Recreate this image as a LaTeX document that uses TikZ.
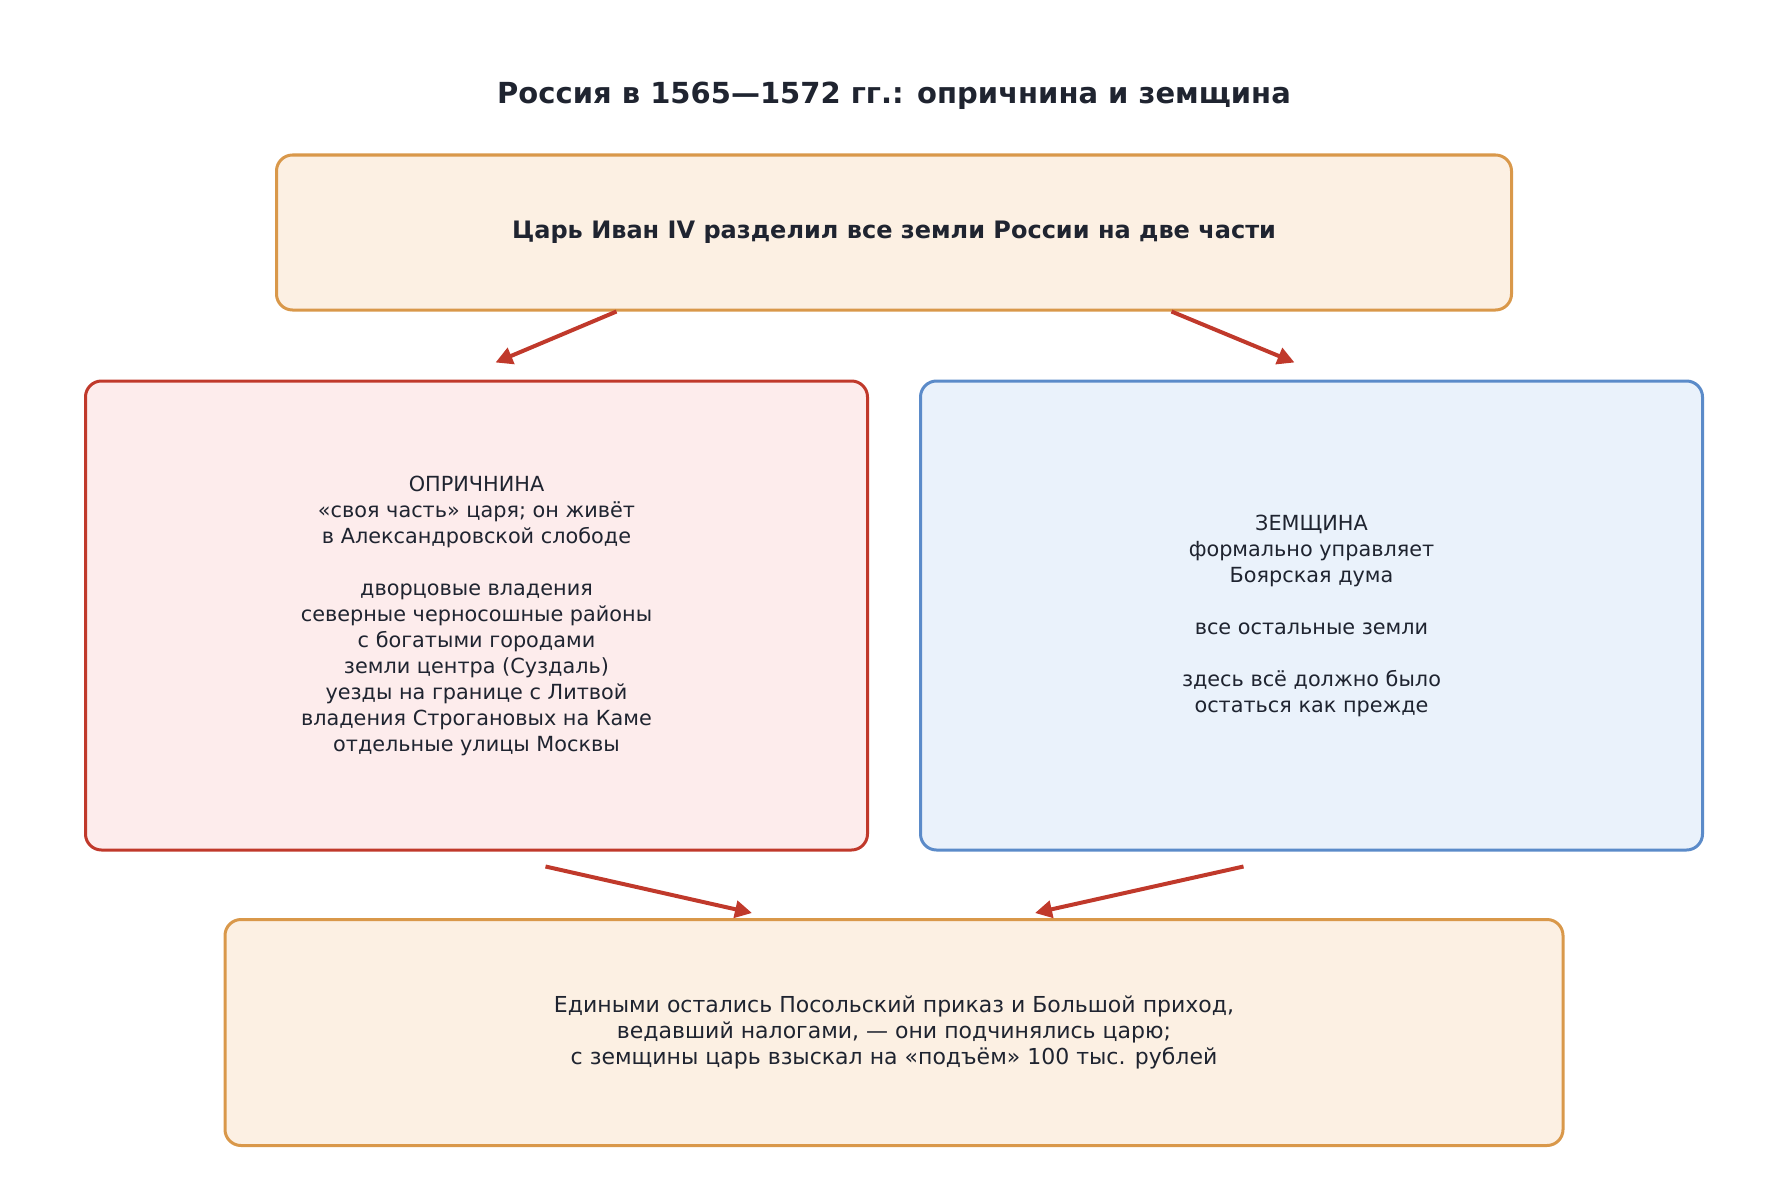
\documentclass[tikz,border=0pt]{standalone}
\usepackage{fontspec}
\setmainfont{DejaVu Sans}
\usetikzlibrary{positioning, arrows.meta}

\definecolor{ink}{RGB}{31,36,48}
\definecolor{sandline}{RGB}{217,152,74}
\definecolor{sandfill}{RGB}{252,240,227}
\definecolor{redline}{RGB}{192,57,43}
\definecolor{redfill}{RGB}{253,236,236}
\definecolor{blueline}{RGB}{91,139,201}
\definecolor{bluefill}{RGB}{234,242,251}

\begin{document}
\begin{tikzpicture}[x=0.5pt, y=-0.5pt, on grid,
    box/.style={rectangle, rounded corners=8pt, line width=1.5pt, inner sep=0pt,
        align=center, text=ink, font=\fontsize{11}{13}\selectfont},
    sandbox/.style={box, draw=sandline, fill=sandfill},
    oprbox/.style={box, draw=redline, fill=redfill, minimum width=391pt, minimum height=234.5pt,
        font=\fontsize{10.4}{13}\selectfont},
    zembox/.style={box, draw=blueline, fill=bluefill, minimum width=391pt, minimum height=234.5pt,
        font=\fontsize{10.4}{13}\selectfont},
    arr/.style={-{Triangle[length=8.5pt, width=8.5pt]}, line width=2pt, draw=redline}]
    \useasboundingbox (0,0) rectangle (1788,1188);

    \node[text=ink, font=\fontsize{14.5}{17}\selectfont\bfseries] (title) at (894,95.5)
        {Россия в 1565—1572 гг.: опричнина и земщина};
    \node[sandbox, minimum width=617.5pt, minimum height=77.5pt,
        font=\fontsize{12}{14}\selectfont\bfseries] (tsar) [below=68.5pt of title]
        {Царь Иван IV разделил все земли России на две части};
    \node[oprbox] (opr) [below left=191.5pt and 208.75pt of tsar]
        {ОПРИЧНИНА\\
         «своя часть» царя; он живёт\\
         в Александровской слободе\\
         ~\\
         дворцовые владения\\
         северные черносошные районы\\
         с богатыми городами\\
         земли центра (Суздаль)\\
         уезды на границе с Литвой\\
         владения Строгановых на Каме\\
         отдельные улицы Москвы};
    \node[zembox] (zem) [below right=191.5pt and 208.75pt of tsar]
        {ЗЕМЩИНА\\
         формально управляет\\
         Боярская дума\\
         ~\\
         все остальные земли\\
         ~\\
         здесь всё должно было\\
         остаться как прежде};
    \node[sandbox, minimum width=669pt, minimum height=113pt] (common) [below=400pt of tsar]
        {Едиными остались Посольский приказ и Большой приход,\\
         ведавший налогами, — они подчинялись царю;\\
         с земщины царь взыскал на «подъём» 100 тыс. рублей};

    \draw[arr] ([xshift=-138.75pt]tsar.south) -- ([xshift=9.5pt, yshift=8.5pt]opr.north);
    \draw[arr] ([xshift=138.75pt]tsar.south) -- ([xshift=-8.5pt, yshift=8.5pt]zem.north);
    \draw[arr] ([xshift=34.5pt, yshift=-7.5pt]opr.south) -- ([xshift=-71pt, yshift=2.5pt]common.north);
    \draw[arr] ([xshift=-34pt, yshift=-7.5pt]zem.south) -- ([xshift=70.5pt, yshift=2.5pt]common.north);

\end{tikzpicture}
\end{document}
